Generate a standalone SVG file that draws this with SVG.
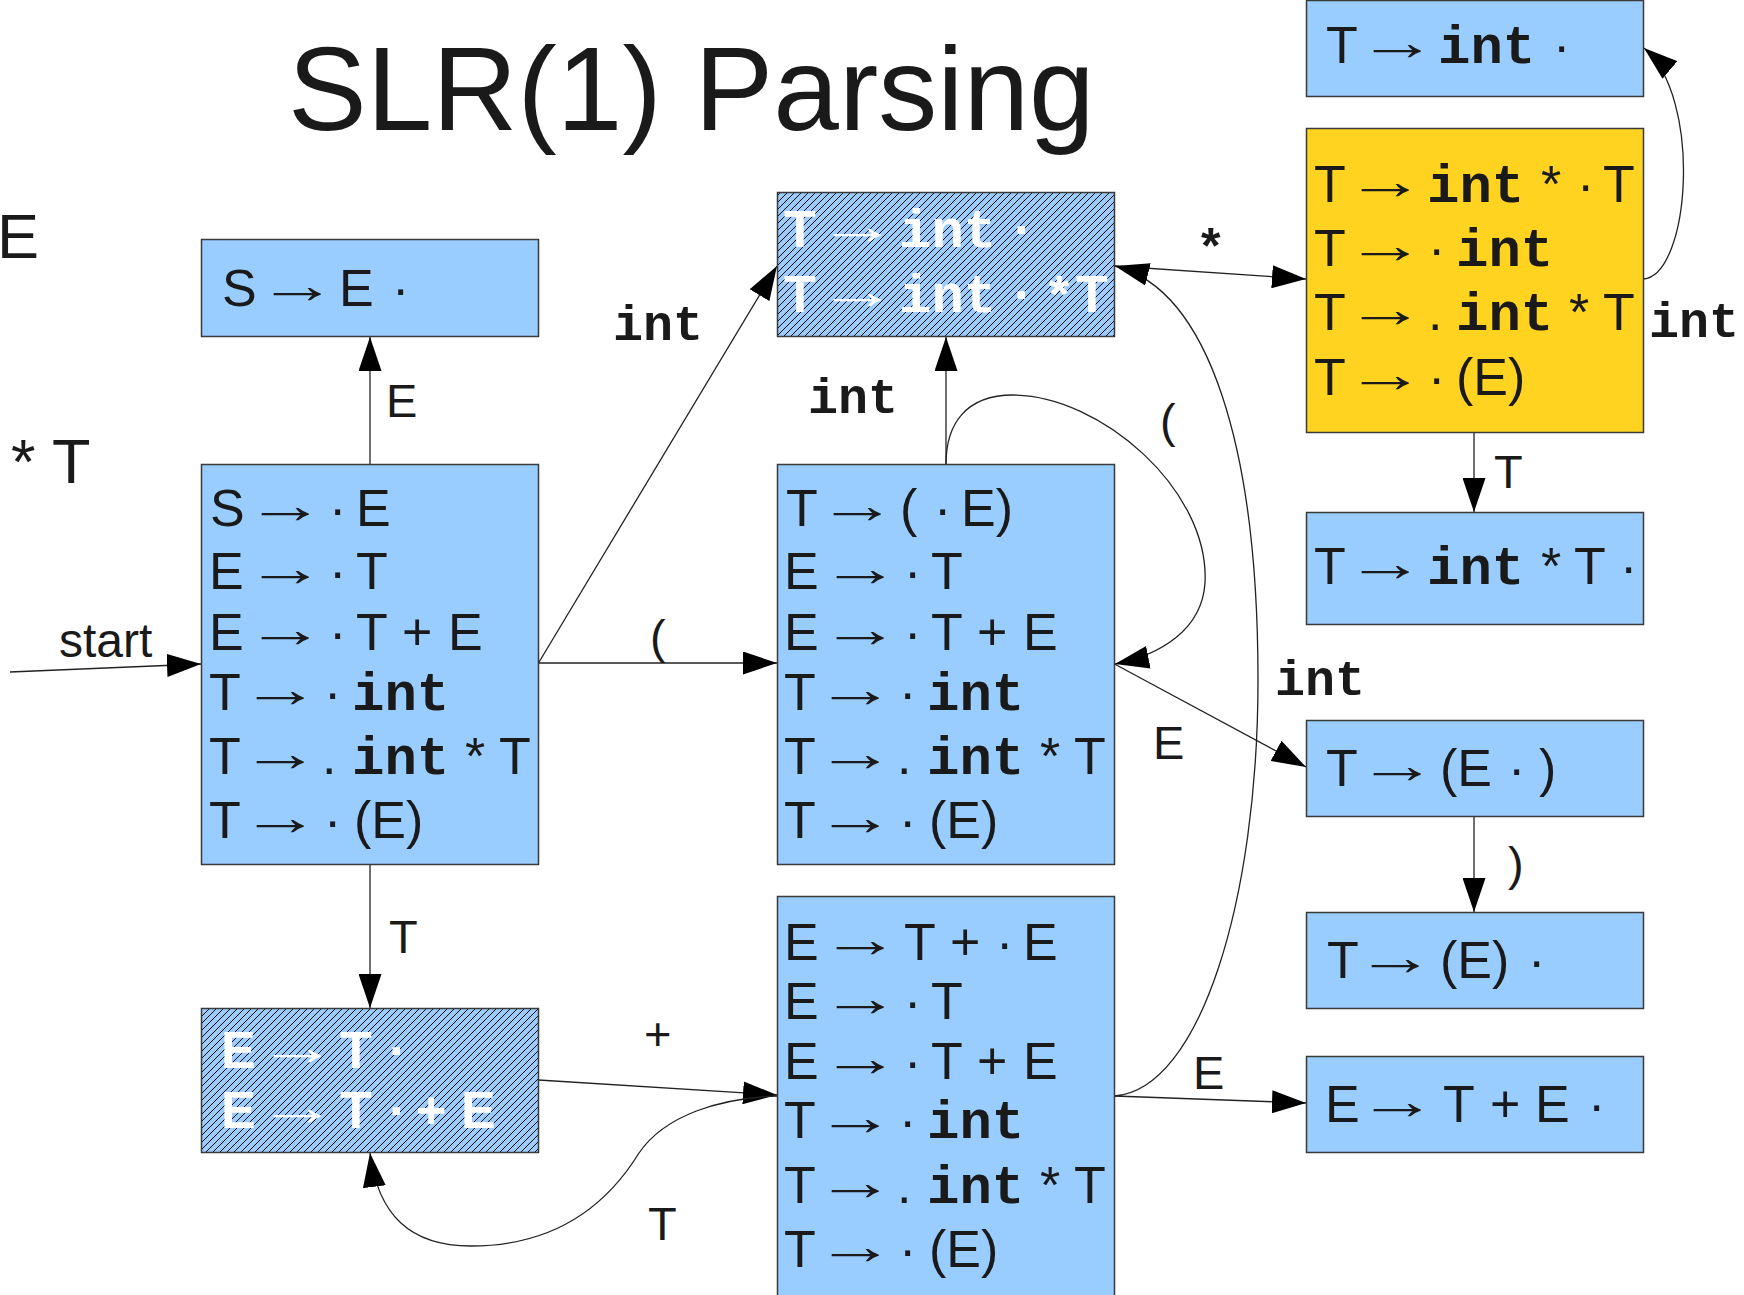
<svg xmlns="http://www.w3.org/2000/svg" width="1744" height="1295" viewBox="0 0 1744 1295">
<defs>
<style>
.bx{fill:#99ccff;stroke:#3a3a3a;stroke-width:1.5}
.yb{fill:#ffd320;stroke:#3a3a3a;stroke-width:1.5}
.ht{fill:url(#hatch);stroke:#3a3a3a;stroke-width:1.5}
.t{font-family:"Liberation Sans",Arial,sans-serif;font-size:52px;fill:#1a1a1a}
.w{font-family:"Liberation Sans",Arial,sans-serif;font-size:52px;fill:#ffffff;font-weight:bold}
.a{font-weight:normal}
.m{font-family:"Liberation Mono","Courier New",monospace;font-weight:bold;font-size:54px}
.lb{font-family:"Liberation Sans",Arial,sans-serif;font-size:47px;fill:#1a1a1a}
.lm{font-family:"Liberation Mono","Courier New",monospace;font-weight:bold;font-size:50px;fill:#1a1a1a}
.c{fill:none;stroke:#222;stroke-width:1.3;marker-end:url(#ah)}
</style>
<marker id="ah" markerUnits="userSpaceOnUse" markerWidth="34" markerHeight="23" viewBox="0 0 34 23" refX="34" refY="11.5" orient="auto">
<path d="M0,0 L34,11.5 L0,23 z" fill="#000"/>
</marker>
<pattern id="hatch" patternUnits="userSpaceOnUse" width="7" height="7">
<rect width="7" height="7" fill="#99ccff"/>
<path d="M0,7 L7,0 M-1,1 L1,-1 M6,8 L8,6" stroke="#000" stroke-width="1"/>
</pattern>
</defs>
<rect width="1744" height="1295" fill="#ffffff"/>

<text x="288" y="130" style="font-family:'Liberation Sans',Arial,sans-serif;font-size:118px;fill:#1a1a1a">SLR(1) Parsing</text>
<text x="-3" y="258" style="font-family:'Liberation Sans',Arial,sans-serif;font-size:63px;fill:#1a1a1a">E</text>
<text x="11" y="483" style="font-family:'Liberation Sans',Arial,sans-serif;font-size:63px;fill:#1a1a1a">* T</text>

<g id="connectors">
<path class="c" d="M10,672 L201,664"/>
<path class="c" d="M370,464 L370,337"/>
<path class="c" d="M370,864 L370,1008"/>
<path class="c" d="M538.5,663 L777,266"/>
<path class="c" d="M538.5,663 L777,663"/>
<path class="c" d="M946,464 L946,337"/>
<path class="c" d="M946,464 C946,425 965,395 1013,395 C1100,395 1210,490 1205,583 C1202,630 1160,655 1115,664"/>
<path class="c" d="M1114.5,266 L1306,279"/>
<path class="c" d="M1114.5,1096 C1200,1090 1258,900 1258,680 C1258,450 1210,290 1115,266"/>
<path class="c" d="M1114.5,664 L1306,767"/>
<path class="c" d="M1643.5,279 C1690,275 1703,98 1644,48"/>
<path class="c" d="M1474,432 L1474,512"/>
<path class="c" d="M1474,816 L1474,912"/>
<path class="c" d="M538.5,1080 L777,1095"/>
<path class="c" d="M777.5,1096 C720,1098 665,1115 639,1153 C610,1200 560,1246 471,1246 C410,1246 378,1215 370,1153"/>
<path class="c" d="M1114.5,1096 L1306,1103"/>
</g>

<g id="edge-labels">
<text class="lb" x="59" y="657" style="font-size:48px">start</text>
<text class="lb" x="386" y="417">E</text>
<text class="lb" x="389" y="953">T</text>
<text class="lm" x="613" y="340">int</text>
<text class="lb" x="650" y="653">(</text>
<text class="lm" x="808" y="413">int</text>
<text class="lb" x="1160" y="437">(</text>
<text class="lb" x="1201" y="263" style="font-weight:bold;font-size:50px">*</text>
<text class="lm" x="1649" y="337">int</text>
<text class="lb" x="1494" y="488">T</text>
<text class="lm" x="1275" y="695">int</text>
<text class="lb" x="1153" y="759">E</text>
<text class="lb" x="1508" y="880">)</text>
<text class="lb" x="644" y="1050">+</text>
<text class="lb" x="1193" y="1089">E</text>
<text class="lb" x="648" y="1240">T</text>
</g>

<g id="n-s-accept">
<rect class="bx" x="201.5" y="239.5" width="337" height="97"/>
<text class="t" y="306"><tspan x="222">S</tspan> <tspan x="257" dy="-3" class="a" textLength="80" lengthAdjust="spacingAndGlyphs">→</tspan> <tspan x="339" dy="3">E</tspan> <tspan x="392">·</tspan></text>
</g>

<g id="n-i0">
<rect class="bx" x="201.5" y="464.5" width="337" height="400"/>
<text class="t" y="526"><tspan x="210">S</tspan> <tspan x="245" dy="-3" textLength="80" lengthAdjust="spacingAndGlyphs">→</tspan> <tspan x="329" dy="3">·</tspan> <tspan x="356">E</tspan></text>
<text class="t" y="589"><tspan x="209">E</tspan> <tspan x="245" dy="-3" textLength="80" lengthAdjust="spacingAndGlyphs">→</tspan> <tspan x="329" dy="3">·</tspan> <tspan x="356">T</tspan></text>
<text class="t" y="650"><tspan x="209">E</tspan> <tspan x="245" dy="-3" textLength="80" lengthAdjust="spacingAndGlyphs">→</tspan> <tspan x="329" dy="3">·</tspan> <tspan x="356">T</tspan> <tspan x="402">+</tspan> <tspan x="448">E</tspan></text>
<text class="t" y="710"><tspan x="209">T</tspan> <tspan x="240" dy="-3" textLength="80" lengthAdjust="spacingAndGlyphs">→</tspan> <tspan x="324" dy="3">·</tspan> <tspan x="352" class="m">int</tspan></text>
<text class="t" y="774"><tspan x="209">T</tspan> <tspan x="240" dy="-3" textLength="80" lengthAdjust="spacingAndGlyphs">→</tspan> <tspan x="322" dy="3">.</tspan> <tspan x="352" class="m">int</tspan> <tspan x="465">*</tspan> <tspan x="499">T</tspan></text>
<text class="t" y="838"><tspan x="209">T</tspan> <tspan x="240" dy="-3" textLength="80" lengthAdjust="spacingAndGlyphs">→</tspan> <tspan x="324" dy="3">·</tspan> <tspan x="354">(E)</tspan></text>
</g>

<g id="n-e-t">
<rect class="ht" x="201.5" y="1008.5" width="337" height="144"/>
<text class="w" y="1068"><tspan x="221">E</tspan> <tspan x="257" dy="-3" class="a" textLength="80" lengthAdjust="spacingAndGlyphs">→</tspan> <tspan x="340" dy="3">T</tspan> <tspan x="389">·</tspan></text>
<text class="w" y="1128"><tspan x="221">E</tspan> <tspan x="257" dy="-3" class="a" textLength="80" lengthAdjust="spacingAndGlyphs">→</tspan> <tspan x="340" dy="3">T</tspan> <tspan x="389">·</tspan> <tspan x="416">+</tspan> <tspan x="461">E</tspan></text>
</g>

<g id="n-int-reduce">
<rect class="ht" x="777.5" y="192.5" width="337" height="144"/>
<text class="w" y="247"><tspan x="784">T</tspan> <tspan x="817" dy="-3" class="a" textLength="80" lengthAdjust="spacingAndGlyphs">→</tspan> <tspan x="899" dy="3" class="m">int</tspan> <tspan x="1014">·</tspan></text>
<text class="w" y="312"><tspan x="784">T</tspan> <tspan x="817" dy="-3" class="a" textLength="80" lengthAdjust="spacingAndGlyphs">→</tspan> <tspan x="899" dy="3" class="m">int</tspan> <tspan x="1014">·</tspan> <tspan x="1049">*</tspan> <tspan x="1076">T</tspan></text>
</g>

<g id="n-paren">
<rect class="bx" x="777.5" y="464.5" width="337" height="400"/>
<text class="t" y="526"><tspan x="786">T</tspan> <tspan x="817" dy="-3" textLength="80" lengthAdjust="spacingAndGlyphs">→</tspan> <tspan x="900" dy="3">(</tspan> <tspan x="934">·</tspan> <tspan x="961">E)</tspan></text>
<text class="t" y="589"><tspan x="784">E</tspan> <tspan x="820" dy="-3" textLength="80" lengthAdjust="spacingAndGlyphs">→</tspan> <tspan x="904" dy="3">·</tspan> <tspan x="931">T</tspan></text>
<text class="t" y="650"><tspan x="784">E</tspan> <tspan x="820" dy="-3" textLength="80" lengthAdjust="spacingAndGlyphs">→</tspan> <tspan x="904" dy="3">·</tspan> <tspan x="931">T</tspan> <tspan x="977">+</tspan> <tspan x="1023">E</tspan></text>
<text class="t" y="710"><tspan x="784">T</tspan> <tspan x="815" dy="-3" textLength="80" lengthAdjust="spacingAndGlyphs">→</tspan> <tspan x="899" dy="3">·</tspan> <tspan x="927" class="m">int</tspan></text>
<text class="t" y="774"><tspan x="784">T</tspan> <tspan x="815" dy="-3" textLength="80" lengthAdjust="spacingAndGlyphs">→</tspan> <tspan x="897" dy="3">.</tspan> <tspan x="927" class="m">int</tspan> <tspan x="1040">*</tspan> <tspan x="1074">T</tspan></text>
<text class="t" y="838"><tspan x="784">T</tspan> <tspan x="815" dy="-3" textLength="80" lengthAdjust="spacingAndGlyphs">→</tspan> <tspan x="899" dy="3">·</tspan> <tspan x="929">(E)</tspan></text>
</g>

<g id="n-plus">
<rect class="bx" x="777.5" y="896.5" width="337" height="420"/>
<text class="t" y="960"><tspan x="784">E</tspan> <tspan x="820" dy="-3" textLength="80" lengthAdjust="spacingAndGlyphs">→</tspan> <tspan x="904" dy="3">T</tspan> <tspan x="950">+</tspan> <tspan x="996">·</tspan> <tspan x="1023">E</tspan></text>
<text class="t" y="1019"><tspan x="784">E</tspan> <tspan x="820" dy="-3" textLength="80" lengthAdjust="spacingAndGlyphs">→</tspan> <tspan x="904" dy="3">·</tspan> <tspan x="931">T</tspan></text>
<text class="t" y="1079"><tspan x="784">E</tspan> <tspan x="820" dy="-3" textLength="80" lengthAdjust="spacingAndGlyphs">→</tspan> <tspan x="904" dy="3">·</tspan> <tspan x="931">T</tspan> <tspan x="977">+</tspan> <tspan x="1023">E</tspan></text>
<text class="t" y="1138"><tspan x="784">T</tspan> <tspan x="815" dy="-3" textLength="80" lengthAdjust="spacingAndGlyphs">→</tspan> <tspan x="899" dy="3">·</tspan> <tspan x="927" class="m">int</tspan></text>
<text class="t" y="1203"><tspan x="784">T</tspan> <tspan x="815" dy="-3" textLength="80" lengthAdjust="spacingAndGlyphs">→</tspan> <tspan x="897" dy="3">.</tspan> <tspan x="927" class="m">int</tspan> <tspan x="1040">*</tspan> <tspan x="1074">T</tspan></text>
<text class="t" y="1267"><tspan x="784">T</tspan> <tspan x="815" dy="-3" textLength="80" lengthAdjust="spacingAndGlyphs">→</tspan> <tspan x="899" dy="3">·</tspan> <tspan x="929">(E)</tspan></text>
</g>

<g id="n-int-done">
<rect class="bx" x="1306.5" y="0.5" width="337" height="96"/>
<text class="t" y="63"><tspan x="1326">T</tspan> <tspan x="1357" dy="-3" textLength="80" lengthAdjust="spacingAndGlyphs">→</tspan> <tspan x="1438" dy="3" class="m">int</tspan> <tspan x="1553">·</tspan></text>
</g>

<g id="n-star">
<rect class="yb" x="1306.5" y="128.5" width="337" height="304"/>
<text class="t" y="202"><tspan x="1314">T</tspan> <tspan x="1345" dy="-3" textLength="80" lengthAdjust="spacingAndGlyphs">→</tspan> <tspan x="1427" dy="3" class="m">int</tspan> <tspan x="1541">*</tspan> <tspan x="1577">·</tspan> <tspan x="1603">T</tspan></text>
<text class="t" y="266"><tspan x="1314">T</tspan> <tspan x="1345" dy="-3" textLength="80" lengthAdjust="spacingAndGlyphs">→</tspan> <tspan x="1428" dy="3">·</tspan> <tspan x="1456" class="m">int</tspan></text>
<text class="t" y="330"><tspan x="1314">T</tspan> <tspan x="1345" dy="-3" textLength="80" lengthAdjust="spacingAndGlyphs">→</tspan> <tspan x="1428" dy="3">.</tspan> <tspan x="1456" class="m">int</tspan> <tspan x="1569">*</tspan> <tspan x="1603">T</tspan></text>
<text class="t" y="395"><tspan x="1314">T</tspan> <tspan x="1345" dy="-3" textLength="80" lengthAdjust="spacingAndGlyphs">→</tspan> <tspan x="1428" dy="3">·</tspan> <tspan x="1456">(E)</tspan></text>
</g>

<g id="n-int-star-t">
<rect class="bx" x="1306.5" y="512.5" width="337" height="112"/>
<text class="t" y="584"><tspan x="1314">T</tspan> <tspan x="1345" dy="-3" textLength="80" lengthAdjust="spacingAndGlyphs">→</tspan> <tspan x="1427" dy="3" class="m">int</tspan> <tspan x="1541">*</tspan> <tspan x="1574">T</tspan> <tspan x="1620">·</tspan></text>
</g>

<g id="n-e-close">
<rect class="bx" x="1306.5" y="720.5" width="337" height="96"/>
<text class="t" y="786"><tspan x="1326">T</tspan> <tspan x="1357" dy="-3" textLength="80" lengthAdjust="spacingAndGlyphs">→</tspan> <tspan x="1440" dy="3">(E</tspan> <tspan x="1508">·</tspan> <tspan x="1539">)</tspan></text>
</g>

<g id="n-paren-done">
<rect class="bx" x="1306.5" y="912.5" width="337" height="96"/>
<text class="t" y="978"><tspan x="1327">T</tspan> <tspan x="1355" dy="-3" textLength="80" lengthAdjust="spacingAndGlyphs">→</tspan> <tspan x="1440" dy="3">(E)</tspan> <tspan x="1528">·</tspan></text>
</g>

<g id="n-sum">
<rect class="bx" x="1306.5" y="1056.5" width="337" height="96"/>
<text class="t" y="1122"><tspan x="1325">E</tspan> <tspan x="1357" dy="-3" textLength="80" lengthAdjust="spacingAndGlyphs">→</tspan> <tspan x="1443" dy="3">T</tspan> <tspan x="1490">+</tspan> <tspan x="1535">E</tspan> <tspan x="1588">·</tspan></text>
</g>
</svg>
